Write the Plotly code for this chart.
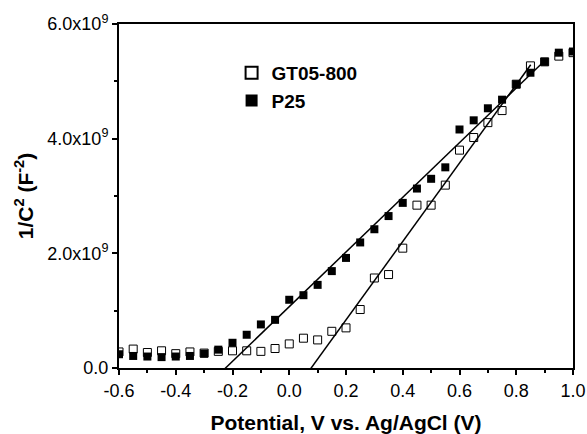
import plotly.graph_objects as go

potential = [-0.6, -0.55, -0.5, -0.45, -0.4, -0.35, -0.3, -0.25, -0.2, -0.15, -0.1, -0.05,
             0.0, 0.05, 0.1, 0.15, 0.2, 0.25, 0.3, 0.35, 0.4, 0.45, 0.5, 0.55,
             0.6, 0.65, 0.7, 0.75, 0.8, 0.85, 0.9, 0.95, 1.0]

# values in units of 1e9 F^-2
p25 = [0.24, 0.21, 0.20, 0.19, 0.20, 0.21, 0.25, 0.32, 0.44, 0.58, 0.76, 0.84,
       1.19, 1.27, 1.45, 1.69, 1.92, 2.19, 2.42, 2.65, 2.88, 3.13, 3.30, 3.50,
       4.16, 4.32, 4.53, 4.68, 4.95, 5.15, 5.34, 5.50, 5.52]

gt05 = [0.28, 0.33, 0.27, 0.30, 0.25, 0.28, 0.26, 0.29, 0.30, 0.30, 0.29, 0.34,
        0.42, 0.52, 0.49, 0.64, 0.70, 1.02, 1.57, 1.63, 2.09, 2.84, 2.84, 3.19,
        3.80, 4.02, 4.28, 4.49, 4.95, 5.27, 5.34, 5.44, 5.50]

# linear fit lines (endpoints)
fit_p25_x = [-0.235, 0.90]
fit_p25_y = [-0.05, 5.36]
fit_gt_x = [0.048, 0.851]
fit_gt_y = [-0.20, 5.29]

y_tickvals = [0, 2, 4, 6]
y_ticktext = ["0.0", "2.0x10<sup>9</sup>", "4.0x10<sup>9</sup>", "6.0x10<sup>9</sup>"]
x_tickvals = [-0.6, -0.4, -0.2, 0.0, 0.2, 0.4, 0.6, 0.8, 1.0]
x_ticktext = ["-0.6", "-0.4", "-0.2", "0.0", "0.2", "0.4", "0.6", "0.8", "1.0"]

font = "Liberation Sans, Arial, sans-serif"

fig = go.Figure()
fig.add_trace(go.Scatter(x=potential, y=gt05, mode="markers", name="GT05-800",
                         marker=dict(symbol="square-open", size=8, color="black",
                                     line=dict(width=1, color="black"))))
fig.add_trace(go.Scatter(x=potential, y=p25, mode="markers", name="P25",
                         marker=dict(symbol="square", size=8, color="black")))
fig.add_trace(go.Scatter(x=fit_p25_x, y=fit_p25_y, mode="lines", showlegend=False,
                         line=dict(color="black", width=1.5)))
fig.add_trace(go.Scatter(x=fit_gt_x, y=fit_gt_y, mode="lines", showlegend=False,
                         line=dict(color="black", width=1.5)))

fig.update_layout(
    width=587, height=434,
    margin=dict(l=119, r=14, t=24, b=66, autoexpand=False),
    paper_bgcolor="white", plot_bgcolor="white",
    font=dict(family=font, size=18, color="black"),
    showlegend=True,
    legend=dict(x=0.248, y=0.913, xanchor="left", yanchor="top",
                bgcolor="rgba(0,0,0,0)", font=dict(size=19, family=font, weight="bold"),
                tracegroupgap=0, itemsizing="constant"),
    xaxis=dict(range=[-0.6, 1.0], tickvals=x_tickvals, ticktext=x_ticktext,
               automargin=False,
               ticks="outside", ticklen=5, tickwidth=1.5, tickcolor="black",
               minor=dict(tickvals=[-0.5, -0.3, -0.1, 0.1, 0.3, 0.5, 0.7, 0.9],
                          ticks="outside", ticklen=3, tickwidth=1.5, tickcolor="black"),
               showline=True, linewidth=2, linecolor="black", mirror=True,
               showgrid=False, zeroline=False,
               tickfont=dict(size=18),
               title=dict(text="<b>Potential, V vs. Ag/AgCl (V)</b>", font=dict(size=21), standoff=20)),
    yaxis=dict(range=[0, 6], tickvals=y_tickvals, ticktext=y_ticktext,
               automargin=False,
               ticks="outside", ticklen=5, tickwidth=1.5, tickcolor="black",
               minor=dict(tickvals=[1, 3, 5], ticks="outside", ticklen=3,
                          tickwidth=1.5, tickcolor="black"),
               showline=True, linewidth=2, linecolor="black", mirror=True,
               showgrid=False, zeroline=False,
               tickfont=dict(size=18),
               title=dict(text="<b>1/C<sup>2</sup> (F<sup>-2</sup>)</b>", font=dict(size=21), standoff=8)),
)

fig.write_html("out.html")
